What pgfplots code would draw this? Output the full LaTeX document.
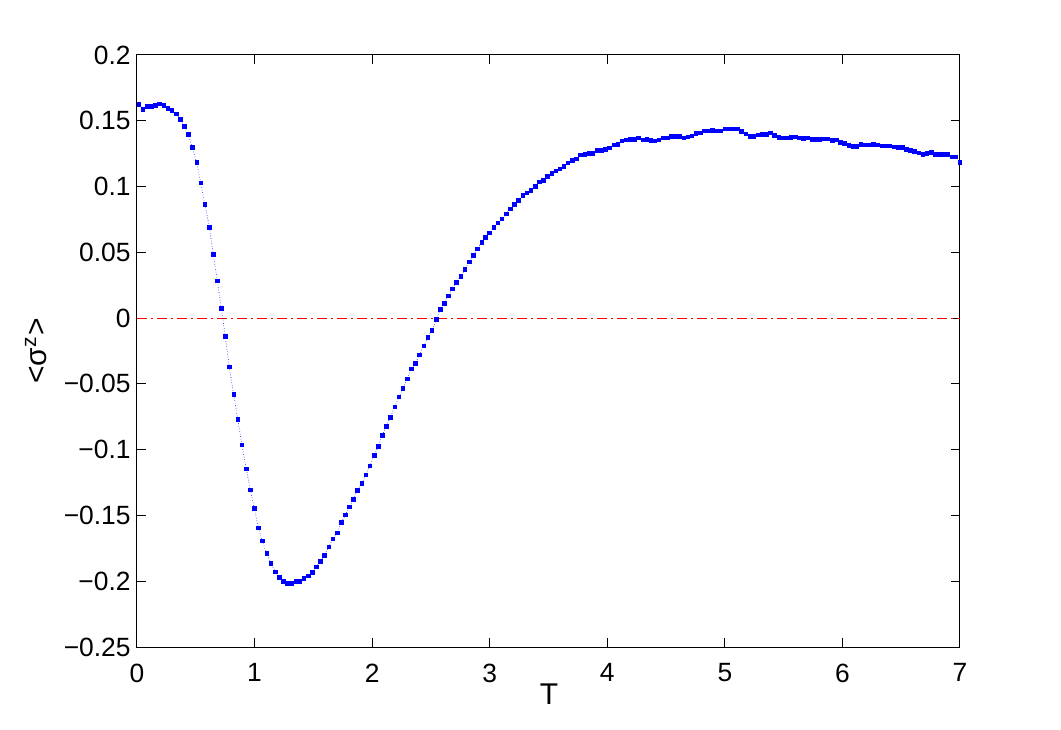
\documentclass[border=0pt]{standalone}
\usepackage{fontspec}
\setmainfont{Liberation Sans}
\usepackage{pgfplots}
\pgfplotsset{compat=1.18}
\definecolor{mblue}{rgb}{0,0,1}
\definecolor{mred}{rgb}{1,0,0}

\begin{document}
\begin{tikzpicture}
\path[use as bounding box] (0,0) rectangle (530.5pt,364.5pt);
\begin{axis}[
  at={(68.5pt,41pt)}, anchor=south west,
  scale only axis, width=411.5pt, height=296pt,
  xmin=0, xmax=7, ymin=-0.25, ymax=0.2,
  xtick={0,1,2,3,4,5,6,7},
  ytick={-0.25,-0.2,-0.15,-0.1,-0.05,0,0.05,0.1,0.15,0.2},
  yticklabels={−0.25,−0.2,−0.15,−0.1,−0.05,0,0.05,0.1,0.15,0.2},
  /pgf/number format/assume math mode=true,
  tick align=inside, tick pos=both,
  major tick length=4.5pt,
  every tick/.style={black, line width=0.5pt},
  axis line style={black, line width=0.5pt},
  ticklabel style={font=\fontsize{13.2}{15}\selectfont, inner sep=0pt},
  xticklabel style={anchor=north, yshift=-8.2pt},
  yticklabel style={anchor=east, xshift=-3pt},
  label style={font=\fontsize{15}{18}\selectfont, inner sep=0pt},
  xlabel={T}, ylabel={<σ\textsuperscript{z}>},
  xlabel style={at={(axis description cs:0.5006,-0.0794)}, anchor=center},
  ylabel style={at={(axis description cs:-0.1227,0.5)}, anchor=center},
  clip=false,
]
\addplot[mred, line width=0.5pt, dash pattern=on 5pt off 2pt on 1pt off 2pt]
  coordinates {(0,0) (7,0)};
\addplot[mblue, line width=0.3pt, densely dotted, mark=square*, mark size=0.8pt,
  mark options={solid, mblue}]
coordinates {
(0.017,0.1625) (0.051,0.1587) (0.088,0.1610) (0.122,0.1610) (0.156,0.1618)
(0.190,0.1628) (0.227,0.1618) (0.261,0.1595) (0.298,0.1580) (0.334,0.1552)
(0.368,0.1511) (0.402,0.1458) (0.436,0.1397) (0.470,0.1298) (0.508,0.1184)
(0.542,0.1029) (0.578,0.0865) (0.615,0.0690) (0.649,0.0485) (0.683,0.0282)
(0.717,0.0075) (0.751,-0.0138) (0.785,-0.0372) (0.822,-0.0579) (0.857,-0.0769)
(0.893,-0.0965) (0.930,-0.1147) (0.964,-0.1307) (0.998,-0.1446) (1.032,-0.1593)
(1.066,-0.1694) (1.103,-0.1788) (1.140,-0.1864) (1.176,-0.1930) (1.210,-0.1970)
(1.244,-0.2001) (1.278,-0.2016) (1.312,-0.2016) (1.350,-0.2001) (1.386,-0.2001)
(1.420,-0.1978) (1.457,-0.1958) (1.491,-0.1932) (1.525,-0.1892) (1.559,-0.1849)
(1.593,-0.1803) (1.630,-0.1740) (1.667,-0.1677) (1.704,-0.1633) (1.738,-0.1552)
(1.772,-0.1497) (1.806,-0.1436) (1.840,-0.1377) (1.874,-0.1309) (1.911,-0.1256)
(1.948,-0.1190) (1.982,-0.1122) (2.018,-0.1043) (2.052,-0.0974) (2.086,-0.0891)
(2.120,-0.0822) (2.154,-0.0754) (2.192,-0.0673) (2.228,-0.0600) (2.262,-0.0534)
(2.299,-0.0463) (2.333,-0.0385) (2.367,-0.0344) (2.401,-0.0280) (2.439,-0.0210)
(2.473,-0.0146) (2.509,-0.0093) (2.546,-0.0009) (2.580,0.0067) (2.614,0.0113)
(2.648,0.0168) (2.682,0.0224) (2.716,0.0272) (2.753,0.0318) (2.790,0.0371)
(2.826,0.0429) (2.860,0.0477) (2.894,0.0525) (2.932,0.0576) (2.963,0.0614)
(2.996,0.0649) (3.034,0.0690) (3.071,0.0725) (3.105,0.0753) (3.141,0.0794)
(3.175,0.0832) (3.209,0.0865) (3.243,0.0896) (3.281,0.0934) (3.315,0.0953)
(3.351,0.0972) (3.388,0.1002) (3.422,0.1035) (3.456,0.1048) (3.490,0.1078)
(3.527,0.1101) (3.564,0.1118) (3.598,0.1133) (3.632,0.1154) (3.666,0.1179)
(3.703,0.1200) (3.737,0.1209) (3.771,0.1242) (3.808,0.1245) (3.842,0.1253)
(3.879,0.1253) (3.913,0.1276) (3.949,0.1276) (3.983,0.1283) (4.017,0.1295)
(4.055,0.1316) (4.089,0.1321) (4.123,0.1346) (4.159,0.1354) (4.196,0.1359)
(4.230,0.1359) (4.264,0.1369) (4.301,0.1354) (4.335,0.1359) (4.369,0.1352)
(4.403,0.1349) (4.440,0.1354) (4.474,0.1369) (4.510,0.1369) (4.544,0.1382)
(4.579,0.1382) (4.613,0.1382) (4.650,0.1369) (4.684,0.1377) (4.721,0.1384)
(4.755,0.1405) (4.791,0.1409) (4.825,0.1422) (4.859,0.1422) (4.893,0.1428)
(4.931,0.1422) (4.965,0.1425) (5.001,0.1437) (5.038,0.1440) (5.072,0.1440)
(5.106,0.1440) (5.140,0.1420) (5.177,0.1400) (5.211,0.1382) (5.245,0.1382)
(5.282,0.1392) (5.319,0.1397) (5.353,0.1397) (5.387,0.1407) (5.421,0.1390)
(5.458,0.1374) (5.492,0.1371) (5.526,0.1369) (5.563,0.1374) (5.599,0.1377)
(5.633,0.1371) (5.667,0.1367) (5.701,0.1369) (5.739,0.1359) (5.773,0.1359)
(5.807,0.1359) (5.843,0.1364) (5.877,0.1364) (5.914,0.1352) (5.948,0.1354)
(5.982,0.1336) (6.016,0.1329) (6.053,0.1314) (6.087,0.1306) (6.122,0.1306)
(6.158,0.1321) (6.192,0.1316) (6.229,0.1318) (6.263,0.1321) (6.297,0.1318)
(6.334,0.1308) (6.368,0.1311) (6.405,0.1308) (6.439,0.1303) (6.475,0.1298)
(6.509,0.1298) (6.544,0.1283) (6.578,0.1276) (6.612,0.1268) (6.649,0.1255)
(6.686,0.1245) (6.720,0.1253) (6.756,0.1260) (6.790,0.1245) (6.824,0.1245)
(6.858,0.1245) (6.895,0.1245) (6.929,0.1225) (6.966,0.1225) (7.000,0.1184)
};
\end{axis}
\end{tikzpicture}
\end{document}
